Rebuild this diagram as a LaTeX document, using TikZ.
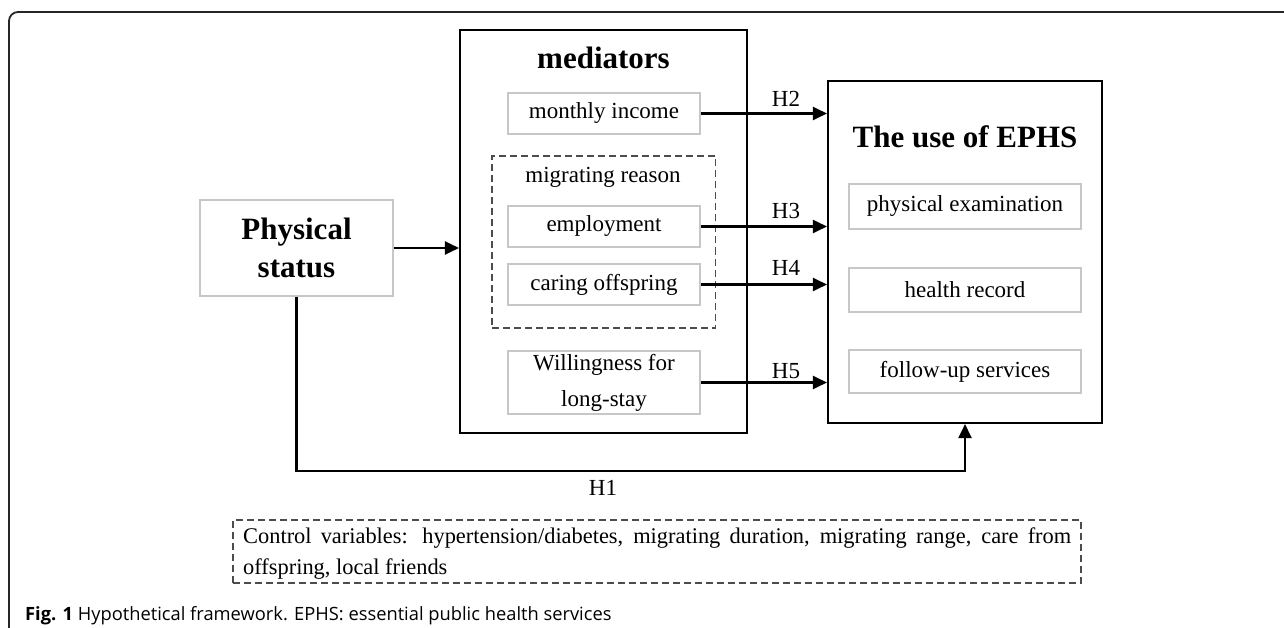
\documentclass[tikz,border=0pt]{standalone}
\usepackage{fontspec}
\setmainfont{Liberation Serif}
\newfontfamily\capfont{Open Sans}
\usetikzlibrary{arrows.meta}
\begin{document}
\begin{tikzpicture}[x=1pt,y=-1pt,
  inbox/.style={draw=black!22, line width=1.2pt, inner sep=0pt, align=center, font=\fontsize{23}{36}\selectfont},
  bigbox/.style={draw=black, line width=2.1pt, inner sep=0pt},
  dbox/.style={draw=black!70, dash pattern=on 7pt off 4pt, line width=1.2pt, inner sep=0pt},
  arr/.style={-{Triangle[length=14pt,width=13pt]}, line width=2.1pt},
  lab/.style={inner sep=0pt, font=\fontsize{23}{28}\selectfont},
  ttl/.style={inner sep=0pt, font=\bfseries\fontsize{31}{38}\selectfont, align=center}]
\useasboundingbox (0,0) rectangle (1284,628);
% outer frame
\draw[line width=1.8pt, black!85, rounded corners=9pt] (9,660) -- (9,12) -- (1320,12);
% mediators
\node[bigbox, minimum width=287pt, minimum height=403pt] (med) at (603.5,231.5) {};
\node[ttl] (medt) at (603.5,58) {mediators};
\node[inbox, minimum width=192pt, minimum height=41pt] (mi) at (604,113.5) {monthly income};
\node[dbox, minimum width=223.5pt, minimum height=172pt] (mr) at (603.75,242) {};
\node[lab] (mrt) at (603,177) {migrating reason};
\node[inbox, minimum width=192pt, minimum height=41pt] (emp) at (604,226.5) {employment};
\node[inbox, minimum width=192pt, minimum height=41pt] (co) at (604,284.5) {caring offspring};
\node[inbox, minimum width=192pt, minimum height=63pt] (wl) at (604,382.5) {Willingness for\\long-stay};
% physical status
\node[inbox, ttl, minimum width=193pt, minimum height=96pt] (ps) at (296.5,248) {Physical\\status};
% EPHS
\node[bigbox, minimum width=274pt, minimum height=342pt] (eph) at (965,252) {};
\node[ttl] (epht) at (965,137) {The use of EPHS};
\node[inbox, minimum width=232pt, minimum height=45pt] (pe) at (965,206.5) {physical examination};
\node[inbox, minimum width=232pt, minimum height=44pt] (hr) at (965,290) {health record};
\node[inbox, minimum width=232pt, minimum height=43pt] (fu) at (965,371.5) {follow-up services};
% arrows
\draw[arr] (ps.east) -- (ps.east -| med.west);
\draw[arr] (mi.east) -- (mi.east -| eph.west);
\draw[arr] (emp.east) -- (emp.east -| eph.west);
\draw[arr] (co.east) -- (co.east -| eph.west);
\draw[arr] (wl.east) -- (wl.east -| eph.west);
\coordinate (h1turn) at (965,471);
\draw[arr] (ps.south) |- (h1turn) -- (eph.south);
\node[lab] (h2) at (786,99) {H2};
\node[lab] (h3) at (786,211) {H3};
\node[lab] (h4) at (786,268) {H4};
\node[lab] (h5) at (786,371) {H5};
\node[lab] (h1) at (603,488) {H1};
% control variables
\node[dbox, minimum width=848pt, minimum height=63pt] (ctl) at (657,551.5) {};
\node[anchor=base west, inner sep=0pt, font=\fontsize{22.4}{31}\selectfont] (ctl1) at (243,543) {\makebox[828pt][s]{Control variables: hypertension/diabetes, migrating duration, migrating range, care from}};
\node[anchor=base west, inner sep=0pt, font=\fontsize{22.4}{31}\selectfont] (ctl2) at (243,574) {offspring, local friends};
% caption
\node[anchor=base west, inner sep=0pt, font=\capfont\fontsize{18.3}{20}\selectfont] (cap) at (25,620) {\textbf{Fig. 1} Hypothetical framework. EPHS: essential public health services};
\end{tikzpicture}
\end{document}
